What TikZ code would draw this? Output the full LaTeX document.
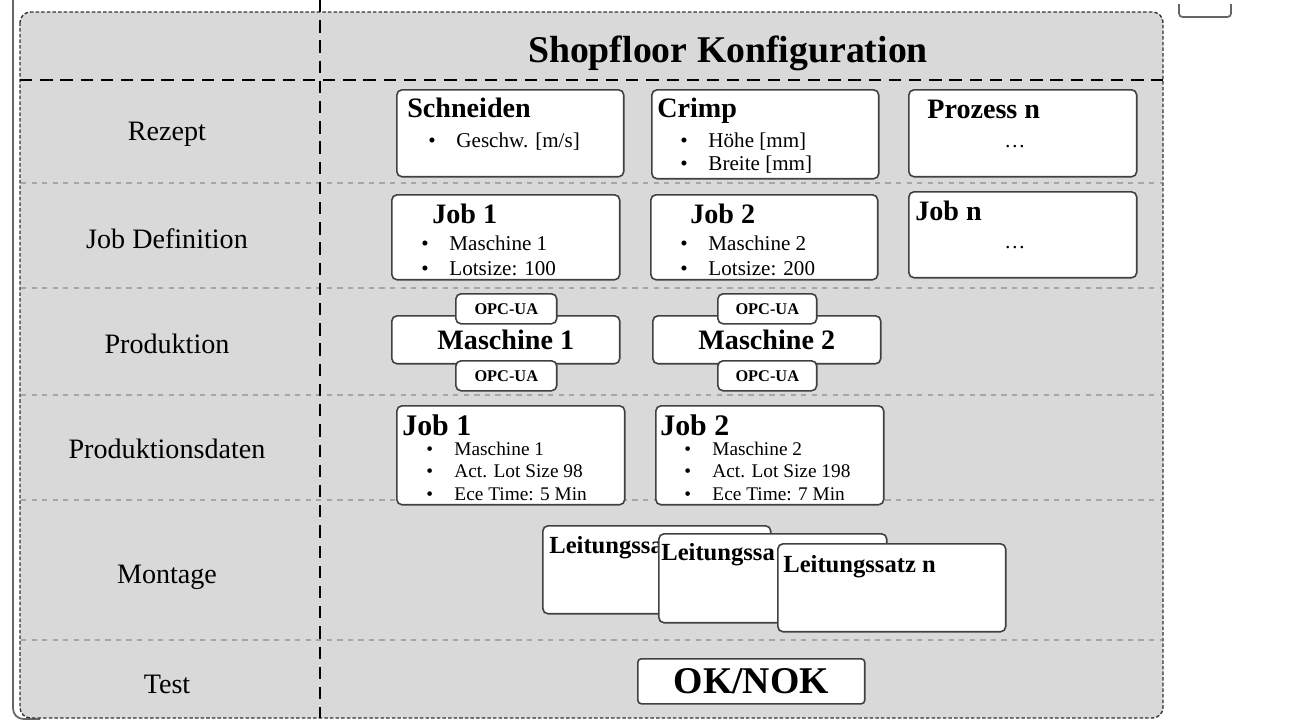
\documentclass[tikz,border=0pt]{standalone}
\usepackage{fontspec}
\setmainfont{Liberation Serif}
\usetikzlibrary{positioning}
\tikzset{
  box/.style={draw=black!75, fill=white, line width=0.9pt, rounded corners=3pt,
    anchor=north west, inner sep=0pt, minimum width=4.56cm},
  hd/.style={font=\bfseries\fontsize{16}{18}\selectfont, anchor=base west, inner sep=0pt},
  itm/.style={font=\fontsize{12}{14}\selectfont, anchor=base west, inner sep=0pt},
  itms/.style={itm, font=\fontsize{11}{13}\selectfont},
  lbl/.style={font=\fontsize{16}{18}\selectfont},
  opc/.style={box, minimum width=2.02cm, minimum height=0.6cm,
    font=\bfseries\fontsize{9.3}{10}\selectfont},
  sep/.style={draw=black!35, dashed, line width=0.6pt},
  thick dash/.style={line width=1.7pt, dash pattern=on 7pt off 4.5pt},
}
\newcommand{\bp}[1]{\makebox[16pt][l]{\textbullet}#1}
\begin{document}
\begin{tikzpicture}[x=0.02cm, y=-0.02cm]
\useasboundingbox (0,0) rectangle (1290,720);
% outer frame pieces
\draw[black!60, line width=1pt, rounded corners=6pt] (13,-2) |- (40,719);
\draw[black!60, line width=1pt, rounded corners=2pt] (1179,4) -- (1179,17) -- (1231,17) -- (1231,4);
% container
\draw[fill=black!15, draw=black!80, line width=0.8pt, dash pattern=on 2pt off 1.2pt, rounded corners=6pt]
  (20,12) rectangle (1163,718);
\foreach \y in {183,288,395,500,640}
  \draw[sep] (21,\y) -- (1162,\y);
\draw[thick dash] (320,0) -- (320,718);
\draw[thick dash] (20,80) -- (1163,80);
\node[font=\bfseries\fontsize{21.5}{24}\selectfont, anchor=base] (title) at (728,62) {Shopfloor Konfiguration};

% row labels
\node[lbl] (rRezept) at (167,134) {Rezept};
\node[lbl] (rJob) at (167,239) {Job Definition};
\node[lbl] (rProd) at (167,344) {Produktion};
\node[lbl] (rDaten) at (167,449) {Produktionsdaten};
\node[lbl] (rMont) at (167,577) {Montage};
\node[lbl] (rTest) at (167,684) {Test};

% Rezept
\node[box, minimum width=4.54cm, minimum height=1.74cm] (schneiden) at (396,89) {};
\node[hd] (schneidenT) at (407,117) {Schneiden};
\node[itm] (schneiden1) at (428,147) {\bp{Geschw. [m/s]}};
\node[box, minimum width=4.54cm, minimum height=1.78cm] (crimp) at (651,89) {};
\node[hd] (crimpT) at (657,117) {Crimp};
\node[itm] (crimp1) at (680,147) {\bp{Höhe [mm]}};
\node[itm] (crimp2) at (680,170) {\bp{Breite [mm]}};
\node[box, minimum height=1.74cm] (prozn) at (908,89) {};
\node[hd] (proznT) at (927,118) {Prozess n};
\node[itm, anchor=base] (proznD) at (1015,147) {\dots};

% Job Definition
\node[box, minimum height=1.70cm] (jd1) at (391,194) {};
\node[hd] (jd1T) at (432,223) {Job 1};
\foreach \t [count=\i] in {Maschine 1, Lotsize: 100}
  \node[itm] (jd1-\i) at (421,{250+25*(\i-1)}) {\bp{\t}};
\node[box, minimum width=4.54cm, minimum height=1.70cm] (jd2) at (650,194) {};
\node[hd] (jd2T) at (690,223) {Job 2};
\foreach \t [count=\i] in {Maschine 2, Lotsize: 200}
  \node[itm] (jd2-\i) at (680,{250+25*(\i-1)}) {\bp{\t}};
\node[box, minimum height=1.72cm] (jdn) at (908,191) {};
\node[hd] (jdnT) at (915,220) {Job n};
\node[itm, anchor=base] (jdnD) at (1015,248) {\dots};

% Produktion
\node[box, minimum height=0.96cm, font=\bfseries\fontsize{16}{18}\selectfont] (m1) at (391,315) {Maschine 1};
\node[opc] (m1top) at (455,293) {OPC-UA};
\node[opc] (m1bot) at (455,360) {OPC-UA};
\node[box, minimum height=0.96cm, font=\bfseries\fontsize{16}{18}\selectfont] (m2) at (652,315) {Maschine 2};
\node[opc, minimum width=1.98cm] (m2top) at (717,293) {OPC-UA};
\node[opc, minimum width=1.98cm] (m2bot) at (717,360) {OPC-UA};

% Produktionsdaten
\node[box, minimum height=1.98cm] (pd1) at (396,405) {};
\node[hd, font=\bfseries\fontsize{17}{18}\selectfont] (pd1T) at (402,435) {Job 1};
\foreach \t [count=\i] in {Maschine 1, Act. Lot Size 98, Ece Time: 5 Min}
  \node[itms] (pd1-\i) at (426,{455+22.5*(\i-1)}) {\bp{\t}};
\node[box, minimum height=1.98cm] (pd2) at (655,405) {};
\node[hd, font=\bfseries\fontsize{17}{18}\selectfont] (pd2T) at (660,435) {Job 2};
\foreach \t [count=\i] in {Maschine 2, Act. Lot Size 198, Ece Time: 7 Min}
  \node[itms] (pd2-\i) at (684,{455+22.5*(\i-1)}) {\bp{\t}};

% Montage
\node[box, minimum height=1.76cm] (ls1) at (542,525) {};
\node[hd, font=\bfseries\fontsize{14}{16}\selectfont] (ls1T) at (549,553) {Leitungssa};
\node[box, minimum height=1.78cm] (ls2) at (658,533) {};
\node[hd, font=\bfseries\fontsize{14}{16}\selectfont] (ls2T) at (661,560) {Leitungssa};
\node[box, minimum height=1.76cm] (lsn) at (777,543) {};
\node[hd, font=\bfseries\fontsize{14}{16}\selectfont] (lsnT) at (783,572) {Leitungssatz n};

% Test
\node[box, rounded corners=2pt, minimum width=4.54cm, minimum height=0.9cm,
  font=\bfseries\fontsize{21.5}{24}\selectfont] (ok) at (637,658) {OK/NOK};
\end{tikzpicture}
\end{document}
